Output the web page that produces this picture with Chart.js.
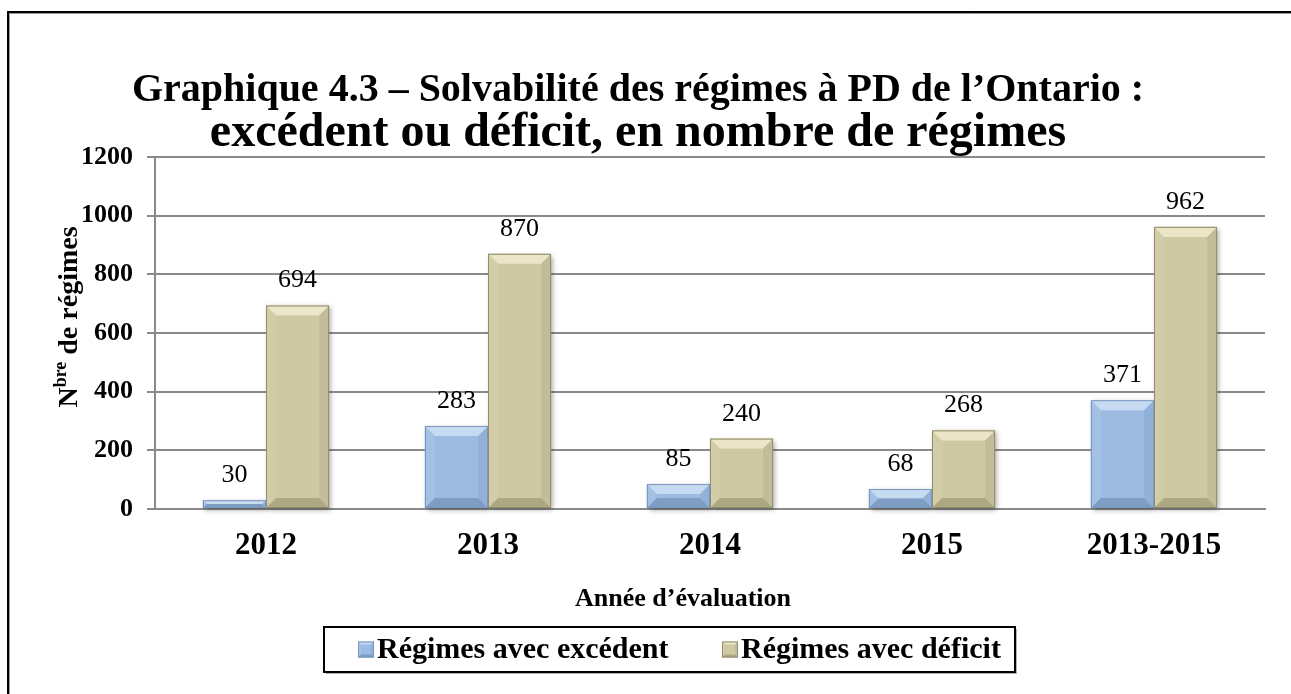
<!DOCTYPE html>
<html><head><meta charset="utf-8">
<script src="https://cdn.jsdelivr.net/npm/chart.js@4"></script>
<style>html,body{margin:0;padding:0;background:#fff;overflow:hidden}#wrap{width:1291px;height:694px}canvas{display:block}</style>
</head><body><div id="wrap"><canvas id="c" width="1291" height="694"></canvas></div>
<script>
const categories = ['2012', '2013', '2014', '2015', '2013-2015'];
const excedent = [30, 283, 85, 68, 371];
const deficit = [694, 870, 240, 268, 962];
const seriesNames = ['Régimes avec excédent', 'Régimes avec déficit'];
const yTicks = [0, 200, 400, 600, 800, 1000, 1200];
const titleLine1 = 'Graphique 4.3 – Solvabilité des régimes à PD de l’Ontario :';
const titleLine2 = 'excédent ou déficit, en nombre de régimes';
const xTitle = 'Année d’évaluation';
const yTitleParts = ['N', 'bre', ' de régimes'];

const FONT = "'Liberation Serif','Times New Roman',serif";
const palette = {
  blue: {main: '#9DBBE1', light: '#C6DAF2', dark: '#7E9CC4', left: '#A3C0E5', right: '#92B1D9', edge: '#7896BE'},
  gold: {main: '#CEC9A3', light: '#EAE6C7', dark: '#ADA884', left: '#D2CDA8', right: '#C2BD98', edge: '#928D6C'}
};

function poly(c, pts, color) {
  c.beginPath();
  c.moveTo(pts[0][0], pts[0][1]);
  for (let i = 1; i < pts.length; i++) c.lineTo(pts[i][0], pts[i][1]);
  c.closePath();
  c.fillStyle = color;
  c.fill();
}
function bevelRect(c, l, t, w, h, p, maxB) {
  const r = l + w, b = t + h;
  const bv = Math.min(maxB, h / 2, w / 2);
  c.fillStyle = p.main; c.fillRect(l, t, w, h);
  poly(c, [[l, t], [l + bv, t + bv], [l + bv, b - bv], [l, b]], p.left);
  poly(c, [[r, t], [r - bv, t + bv], [r - bv, b - bv], [r, b]], p.right);
  poly(c, [[l, t], [r, t], [r - bv, t + bv], [l + bv, t + bv]], p.light);
  poly(c, [[l, b], [r, b], [r - bv, b - bv], [l + bv, b - bv]], p.dark);
  c.strokeStyle = p.edge; c.lineWidth = 1;
  c.strokeRect(l + 0.5, t + 0.5, w - 1, h - 1);
}

const bgPlugin = {
  id: 'bg',
  beforeDraw(chart) {
    const c = chart.ctx;
    c.save();
    c.fillStyle = '#fff'; c.fillRect(0, 0, chart.width, chart.height);
    c.strokeStyle = '#000'; c.lineWidth = 2;
    c.beginPath(); c.moveTo(8, chart.height + 5); c.lineTo(8, 12); c.lineTo(chart.width + 5, 12); c.stroke();
    c.strokeStyle = '#999'; c.lineWidth = 1;
    c.beginPath(); c.moveTo(9.5, chart.height + 5); c.lineTo(9.5, 13.5); c.lineTo(chart.width + 5, 13.5); c.stroke();
    c.restore();
  }
};

const barPlugin = {
  id: 'bevelBars',
  beforeDatasetsDraw(chart) {
    const c = chart.ctx;
    c.save();
    chart.data.datasets.forEach((ds, i) => {
      chart.getDatasetMeta(i).data.forEach(el => {
        const {x, y, base, width} = el.getProps(['x', 'y', 'base', 'width'], true);
        c.shadowColor = 'rgba(0,0,0,0.35)'; c.shadowBlur = 5; c.shadowOffsetX = 2; c.shadowOffsetY = 2;
        c.fillStyle = ds.backgroundColor;
        c.fillRect(x - width / 2, y, width, base - y);
      });
    });
    c.restore();
  },
  afterDatasetsDraw(chart) {
    const c = chart.ctx;
    c.save();
    chart.data.datasets.forEach((ds, i) => {
      chart.getDatasetMeta(i).data.forEach((el, j) => {
        const {x, y, base, width} = el.getProps(['x', 'y', 'base', 'width'], true);
        bevelRect(c, x - width / 2, y, width, base - y, ds.bevel, 10);
        c.fillStyle = '#000';
        c.font = `26px ${FONT}`;
        c.textAlign = 'center'; c.textBaseline = 'alphabetic';
        c.fillText(String(ds.data[j]), x, y - 18);
      });
    });
    c.restore();
  },
  afterDraw(chart) {
    const c = chart.ctx;
    c.save();
    c.fillStyle = '#000';
    c.font = `bold 26px ${FONT}`;
    c.textAlign = 'center'; c.textBaseline = 'middle';
    c.fillText(xTitle, 683, 599);
    const big = `bold 28px ${FONT}`, small = `bold 18px ${FONT}`;
    c.font = big; const w0 = c.measureText(yTitleParts[0]).width;
    c.font = small; const w1 = c.measureText(yTitleParts[1]).width;
    c.font = big; const w2 = c.measureText(yTitleParts[2]).width;
    const tw = w0 + w1 + w2;
    c.translate(67, 317); c.rotate(-Math.PI / 2);
    c.textAlign = 'left'; c.textBaseline = 'alphabetic';
    let px = -tw / 2;
    c.font = big; c.fillText(yTitleParts[0], px, 10); px += w0;
    c.font = small; c.fillText(yTitleParts[1], px, -1); px += w1;
    c.font = big; c.fillText(yTitleParts[2], px, 10);
    c.setTransform(1, 0, 0, 1, 0, 0);
    const bx = 324, by = 627, bw = 691, bh = 45;
    c.fillStyle = 'rgba(0,0,0,0.3)'; c.fillRect(bx + 2, by + 2, bw, bh);
    c.fillStyle = '#fff'; c.fillRect(bx, by, bw, bh);
    c.strokeStyle = '#000'; c.lineWidth = 2; c.strokeRect(bx, by, bw, bh);
    const items = [{sx: 358, tx: 377}, {sx: 722, tx: 741}];
    chart.data.datasets.forEach((ds, i) => {
      const it = items[i];
      bevelRect(c, it.sx, by + bh / 2 - 8, 16, 16, ds.bevel, 3);
      c.fillStyle = '#000';
      c.font = `bold 30px ${FONT}`;
      c.textAlign = 'left'; c.textBaseline = 'middle';
      c.fillText(ds.label, it.tx, by + bh / 2 + 1);
    });
    c.restore();
  }
};

new Chart(document.getElementById('c'), {
  type: 'bar',
  data: {
    labels: categories,
    datasets: [
      {label: seriesNames[0], data: excedent, backgroundColor: palette.blue.main, borderWidth: 0, bevel: palette.blue},
      {label: seriesNames[1], data: deficit, backgroundColor: palette.gold.main, borderWidth: 0, bevel: palette.gold}
    ]
  },
  options: {
    responsive: false,
    animation: false,
    devicePixelRatio: 1,
    layout: {padding: {left: 11, right: 26, top: 0, bottom: 125}},
    datasets: {bar: {categoryPercentage: 0.568, barPercentage: 1}},
    plugins: {
      legend: {display: false},
      tooltip: {enabled: false},
      title: {
        display: true, text: titleLine1, color: '#000',
        font: {family: FONT, size: 40, weight: 'bold', lineHeight: 1.0},
        padding: {top: 71, bottom: 0}
      },
      subtitle: {
        display: true, text: titleLine2, color: '#000',
        font: {family: FONT, size: 48, weight: 'bold', lineHeight: 0.96},
        padding: {top: 0, bottom: 0}
      }
    },
    scales: {
      x: {
        grid: {display: false, drawTicks: false},
        border: {display: true, color: '#8a8a8a', width: 2},
        ticks: {font: {family: FONT, size: 31, weight: 'bold'}, color: '#000', padding: 18},
        afterFit(s) { s.height = 60; }
      },
      y: {
        min: 0, max: 1200,
        afterBuildTicks(s) { s.ticks = yTicks.map(v => ({value: v})); },
        grid: {color: '#8a8a8a', lineWidth: 2, tickLength: 8, drawTicks: true},
        border: {color: '#8a8a8a', width: 2},
        ticks: {font: {family: FONT, size: 26, weight: 'bold'}, color: '#000', padding: 14, callback: v => String(v)},
        afterFit(s) { s.width = 144; }
      }
    }
  },
  plugins: [bgPlugin, barPlugin]
});
</script>
</body></html>
